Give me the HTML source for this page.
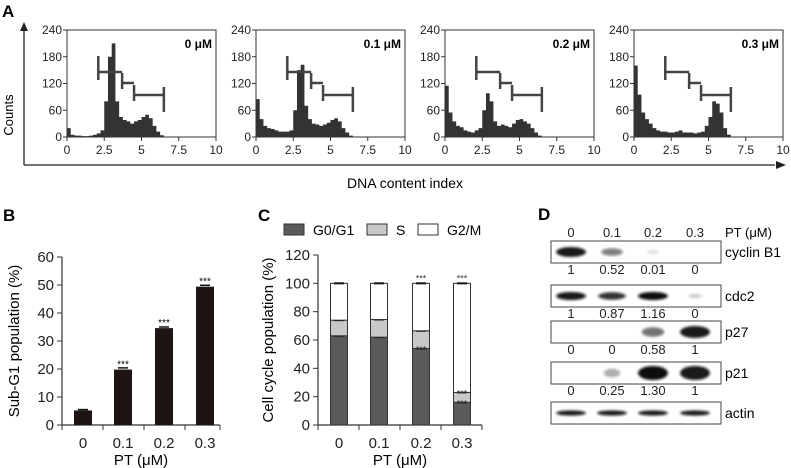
<!DOCTYPE html>
<html><head><meta charset="utf-8"><style>
body{margin:0;background:#fff}
svg{display:block;font-family:"Liberation Sans",sans-serif}
</style></head><body>
<svg id="fig" width="791" height="468" viewBox="0 0 791 468">
<defs><filter id="blur" x="-50%" y="-50%" width="200%" height="200%"><feGaussianBlur stdDeviation="1.3"/></filter></defs>
<g id="A"></g>
<g id="B"></g>
<g id="C"></g>
<g id="D"></g>
</svg>
<script>
// ---- Panel A data ----
const histLabels = ["0 μM","0.1 μM","0.2 μM","0.3 μM"];
const histX = [0,0.25,0.5,0.75,1,1.25,1.5,1.75,2,2.25,2.5,2.75,3,3.25,3.5,3.75,4,4.25,4.5,4.75,5,5.25,5.5,5.75,6,6.25,6.5];
const hist0 = [20,5,3,3,2,2,3,5,8,15,80,180,210,80,45,38,35,30,35,38,45,50,42,25,12,4,0];
const hist1 = [85,40,25,20,18,15,12,12,12,15,60,150,162,70,40,30,28,25,28,32,38,42,35,20,10,3,0];
const hist2 = [115,55,35,25,22,15,12,10,15,20,60,98,80,35,25,28,25,22,30,38,40,35,30,20,10,3,0];
const hist3 = [160,95,55,40,30,20,15,12,12,10,10,12,15,10,10,10,8,10,12,25,45,80,75,55,20,5,0];
const histTicksY = [0,60,120,180,240];
const histTicksX = [0,2.5,5,7.5,10];
const gates = [2.1,3.7,4.5,6.5];
// ---- Panel B data ----
const doses = ["0","0.1","0.2","0.3"];
const subG1 = [5.2,19.8,34.6,49.4];
const subG1Err = [0.3,0.6,0.4,0.5];
const subG1Sig = ["","***","***","***"];
const bTicks = [0,10,20,30,40,50,60];
// ---- Panel C data ----
const g0g1 = [63,62,54,16];
const sPhase = [11,12.5,12.5,7];
const g2m = [26,25.5,33.5,77];
const cTicks = [0,20,40,60,80,100,120];
// ---- Panel D data ----
const blotNames = ["cyclin B1","cdc2","p27","p21","actin"];
const bandCyclin = [1,0.52,0.01,0];
const bandCdc2 = [1,0.87,1.16,0.1];
const bandP27 = [0,0,0.58,1];
const bandP21 = [0,0.25,1.3,1];
const bandActin = [1,1,1,1];
const quantCyclin = ["1","0.52","0.01","0"];
const quantCdc2 = ["1","0.87","1.16","0"];
const quantP27 = ["0","0","0.58","1"];
const quantP21 = ["0","0.25","1.30","1"];

const NS="http://www.w3.org/2000/svg";
function mk(parent,tag,attrs,text){const e=document.createElementNS(NS,tag);for(const k in attrs)e.setAttribute(k,attrs[k]);if(text!==undefined)e.textContent=text;parent.appendChild(e);return e;}

// ---- Panel A ----
const A=document.getElementById('A');
let t=mk(A,'text',{x:2,y:17,'font-size':17,'font-weight':'bold'},'A');


let ax=mk(A,'path',{d:'M24,165 L24,30 M24,165 L775,165',stroke:'#222','stroke-width':1.3,fill:'none'});


mk(A,'path',{d:'M24,22 L20,31 L28,31 Z M786,165 L776,161 L776,169 Z',fill:'#222'});
t=mk(A,'text',{x:13,y:115,'font-size':13,'text-anchor':'middle',transform:'rotate(-90 13 115)'},'Counts');


t=mk(A,'text',{x:405,y:188,'font-size':14,'text-anchor':'middle'},'DNA content index');


const hists=[hist0,hist1,hist2,hist3];
const boxX=[67,256,445,634];
hists.forEach((h,i)=>{
  const g=mk(A,'g',{});
  
  
  const x0=boxX[i],w=149,yT=30,yB=137;
  const sx=v=>x0+v/10*w, sy=v=>yB-v/240*(yB-yT);
  let d='M'+sx(0)+','+yB;
  histX.forEach((xv,j)=>{const xn=j<histX.length-1?histX[j+1]:xv;d+=' L'+sx(xv)+','+sy(h[j])+' L'+sx(xn)+','+sy(h[j]);});
  d+=' L'+sx(histX[histX.length-1])+','+yB+' Z';
  const area=mk(g,'path',{d:d,fill:'#333'});
  
  
  mk(g,'rect',{x:x0,y:yT,width:w,height:yB-yT,fill:'none',stroke:'#333','stroke-width':1});
  histTicksY.forEach(v=>{mk(g,'line',{x1:x0-4,x2:x0,y1:sy(v),y2:sy(v),stroke:'#333'});mk(g,'text',{x:x0-5,y:sy(v)+4,'font-size':12,'text-anchor':'end',fill:'#222'},v);});
  histTicksX.forEach(v=>{mk(g,'line',{x1:sx(v),x2:sx(v),y1:yB,y2:yB+4,stroke:'#333'});mk(g,'text',{x:sx(v),y:yB+17,'font-size':12,'text-anchor':'middle',fill:'#222'},v);});
  const lb=mk(g,'text',{x:x0+w-4,y:yT+18,'font-size':12,'font-weight':'bold','text-anchor':'end'},histLabels[i]);
  
  
  const ys=[72,83,95];
  let gd='';
  for(let k=0;k<3;k++){gd+='M'+sx(gates[k])+','+ys[k]+' L'+sx(gates[k+1])+','+ys[k]+' ';gd+='M'+sx(gates[k])+','+(ys[k]-(k==0?16:10))+' L'+sx(gates[k])+','+(ys[k]+(k==0?8:6))+' ';}
  gd+='M'+sx(gates[3])+','+(ys[2]-8)+' L'+sx(gates[3])+','+(ys[2]+17);
  const gt=mk(g,'path',{d:gd,stroke:'#444','stroke-width':2.5,fill:'none'});
  
  
});

// ---- Panel B ----
const B=document.getElementById('B');
t=mk(B,'text',{x:3,y:221,'font-size':17,'font-weight':'bold'},'B');


(function(){
  const x0=62,x1=220,yT=257,yB=425,sy=v=>yB-v/60*(yB-yT);
  const cx=[83,123,164,205];
  mk(B,'path',{d:`M${x0},${yT} L${x0},${yB} L${x1},${yB}`,stroke:'#333',fill:'none','stroke-width':1.2});
  bTicks.forEach(v=>{mk(B,'line',{x1:x0-5,x2:x0,y1:sy(v),y2:sy(v),stroke:'#333'});mk(B,'text',{x:x0-8,y:sy(v)+5,'font-size':15,'text-anchor':'end',fill:'#222'},v);});
  [x0,103,144,185,x1].forEach(x=>mk(B,'line',{x1:x,x2:x,y1:yB,y2:yB+5,stroke:'#333'}));
  subG1.forEach((v,i)=>{
    const r=mk(B,'rect',{x:cx[i]-9,y:sy(v),width:18,height:yB-sy(v),fill:'#1e1414'});
    
    
    mk(B,'line',{x1:cx[i]-5,x2:cx[i]+5,y1:sy(v+subG1Err[i]),y2:sy(v+subG1Err[i]),stroke:'#111','stroke-width':1.5});
    if(subG1Sig[i])mk(B,'text',{x:cx[i],y:sy(v)-2,'font-size':10,'text-anchor':'middle'},subG1Sig[i]);
    mk(B,'text',{x:cx[i],y:448,'font-size':15,'text-anchor':'middle',fill:'#222'},doses[i]);
  });
  t=mk(B,'text',{x:19,y:341,'font-size':15,'text-anchor':'middle',transform:'rotate(-90 19 341)'},'Sub-G1 population (%)');
  
  
  t=mk(B,'text',{x:141,y:465,'font-size':15,'text-anchor':'middle'},'PT (μM)');
  
  
})();

// ---- Panel C ----
const C=document.getElementById('C');
t=mk(C,'text',{x:258,y:221,'font-size':17,'font-weight':'bold'},'C');


(function(){
  const x0=318,x1=482,yT=255,yB=425,sy=v=>yB-v/120*(yB-yT);
  const cx=[339,379,421,462];
  mk(C,'path',{d:`M${x0},${yT} L${x0},${yB} L${x1},${yB}`,stroke:'#333',fill:'none','stroke-width':1.2});
  cTicks.forEach(v=>{mk(C,'line',{x1:x0-5,x2:x0,y1:sy(v),y2:sy(v),stroke:'#333'});mk(C,'text',{x:x0-8,y:sy(v)+5,'font-size':15,'text-anchor':'end',fill:'#222'},v);});
  [x0,359,400,441,x1].forEach(x=>mk(C,'line',{x1:x,x2:x,y1:yB,y2:yB+5,stroke:'#333'}));
  const sig={2:[[100,'***'],[54,'***']],3:[[100,'***'],[23,'***'],[16,'***']]};
  doses.forEach((d,i)=>{
    const segs=[[g0g1[i],'#5a5a5a','g0g1'],[sPhase[i],'#c8c8c8','s'],[g2m[i],'#fff','g2m']];
    let base=0;
    segs.forEach(s=>{
      const r=mk(C,'rect',{x:cx[i]-8.5,y:sy(base+s[0]),width:17,height:sy(base)-sy(base+s[0]),fill:s[1],stroke:'#333','stroke-width':1});
      
      
      base+=s[0];
      mk(C,'line',{x1:cx[i]-5,x2:cx[i]+5,y1:sy(base),y2:sy(base),stroke:'#111','stroke-width':2});
    });
    (sig[i]||[]).forEach(q=>mk(C,'text',{x:cx[i],y:q[0]>=100?sy(q[0])-2:sy(q[0])+4,'font-size':9,'text-anchor':'middle',fill:'#333'},q[1]));
    mk(C,'text',{x:cx[i],y:448,'font-size':15,'text-anchor':'middle',fill:'#222'},d);
  });
  t=mk(C,'text',{x:273,y:340,'font-size':15,'text-anchor':'middle',transform:'rotate(-90 273 340)'},'Cell cycle population (%)');
  
  
  t=mk(C,'text',{x:400,y:465,'font-size':15,'text-anchor':'middle'},'PT (μM)');
  
  
  const leg=[['G0/G1','#5a5a5a',284],['S','#c8c8c8',367],['G2/M','#fff',418]];
  leg.forEach(l=>{
    const g=mk(C,'g',{});
    
    
    mk(g,'rect',{x:l[2],y:224,width:20,height:11,fill:l[1],stroke:'#333'});
    mk(g,'text',{x:l[2]+29,y:235,'font-size':14},l[0]);
  });
})();

// ---- Panel D ----
const D=document.getElementById('D');
t=mk(D,'text',{x:538,y:220,'font-size':17,'font-weight':'bold'},'D');


(function(){
  const lane=[571,612,653,695];
  doses.forEach((d,i)=>mk(D,'text',{x:lane[i],y:237,'font-size':13,'text-anchor':'middle',fill:'#222'},d));
  mk(D,'text',{x:725,y:237,'font-size':13},'PT (μM)');
  const rows=[[241,bandCyclin,quantCyclin,5],[285,bandCdc2,quantCdc2,4],[321,bandP27,quantP27,6],[362,bandP21,quantP21,7],[402,bandActin,null,2.6]];
  rows.forEach((r,k)=>{
    const g=mk(D,'g',{});
    
    
    mk(g,'rect',{x:551,y:r[0],width:170,height:22,fill:'#fff',stroke:'#444'});
    r[1].forEach((v,i)=>{
      if(v<=0)return;
      const op=Math.min(1,0.1+v*0.85);
      const rx=Math.max(4,Math.min(15,6+v*9));
      mk(g,'ellipse',{cx:lane[i],cy:r[0]+11,rx:rx,ry:r[3]*Math.min(1,0.5+v*0.5),fill:'#111','fill-opacity':op,filter:'url(#blur)'});
    });
    mk(g,'text',{x:725,y:r[0]+16,'font-size':14},blotNames[k]);
    if(r[2])r[2].forEach((q,i)=>mk(D,'text',{x:lane[i],y:r[0]+33,'font-size':13,'text-anchor':'middle',fill:'#222'},q));
  });
})();
</script>
</body></html>
